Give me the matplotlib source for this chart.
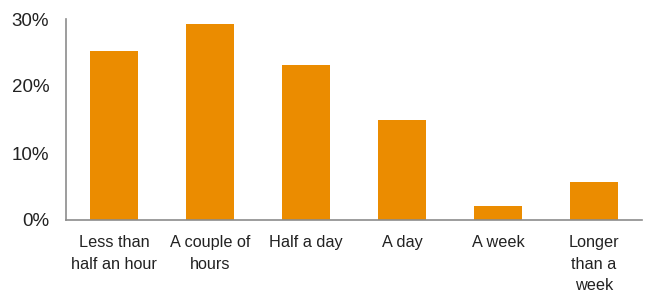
import matplotlib
matplotlib.use("Agg")
import matplotlib.pyplot as plt
from matplotlib.ticker import FuncFormatter

categories = ["Less than\nhalf an hour", "A couple of\nhours", "Half a day", "A day", "A week", "Longer\nthan a\nweek"]
values = [25.2, 29.2, 23.2, 14.9, 2.1, 5.7]
yticks = [0, 10, 20, 30]

plt.rcParams['font.family'] = ['Liberation Sans', 'DejaVu Sans']
fig = plt.figure(figsize=(6.49, 2.98), dpi=100)
W, H = 649, 298
ax = fig.add_axes([66/W, (H-220)/H, (642-66)/W, (220-19)/H])
ax.bar(range(len(categories)), values, width=0.5, color="#EB8C00")
ax.set_xlim(-0.5, len(categories)-0.5)
ax.set_ylim(0, 30)
ax.set_yticks(yticks)
ax.yaxis.set_major_formatter(FuncFormatter(lambda v, p: f"{v:.0f}%"))
ax.set_xticks(range(len(categories)))
ax.set_xticklabels(categories, va="top", linespacing=1.55)
ax.tick_params(axis="both", length=0, colors="#222222")
ax.tick_params(axis="x", pad=11, labelsize=11.7)
ax.tick_params(axis="y", pad=12, labelsize=13.5)
for s in ["top", "right"]:
    ax.spines[s].set_visible(False)
for s in ["left", "bottom"]:
    ax.spines[s].set_color("#8c8c8c")
    ax.spines[s].set_linewidth(1.2)
fig.savefig("out.png", dpi=100)
